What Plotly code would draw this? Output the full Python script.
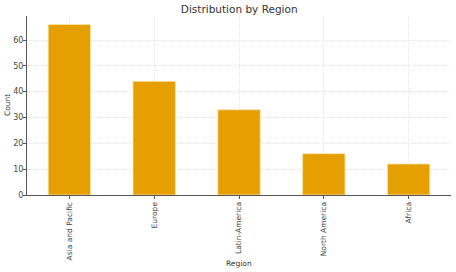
import plotly.graph_objects as go

regions = ["Asia and Pacific", "Europe", "Latin-America", "North America", "Africa"]
counts = [66, 44, 33, 16, 12]
y_ticks = [0, 10, 20, 30, 40, 50, 60]

L, R, T, B = 27, 4.5, 16, 77.4
W, H = 456, 272

fig = go.Figure(go.Bar(
    x=regions, y=counts, width=0.5,
    marker=dict(color="#E69F00", line=dict(color="#FBE3B0", width=0.8)),
))

axis_font = dict(family="DejaVu Sans", size=7.5, color="#444444")
fig.update_layout(
    width=W, height=H,
    margin=dict(l=L, r=R, t=T, b=B, autoexpand=False),
    paper_bgcolor="white", plot_bgcolor="white",
    showlegend=False,
    title=dict(text="Distribution by Region", x=(L + W - R) / 2 / W, xanchor="center",
               y=1 - 9 / H, yanchor="middle",
               font=dict(family="DejaVu Sans", size=10.5, color="#333333")),
    font=dict(family="DejaVu Sans"),
    annotations=[
        dict(text="Region", xref="paper", yref="paper", x=0.5, y=-(263 - (H - B)) / (H - T - B),
             yanchor="middle", xanchor="center", showarrow=False,
             font=dict(family="DejaVu Sans", size=7.5, color="#333333")),
        dict(text="Count", xref="paper", yref="paper", x=-(L - 7.5) / (W - L - R), y=0.5,
             yanchor="middle", xanchor="center", textangle=-90, showarrow=False,
             font=dict(family="DejaVu Sans", size=7.5, color="#333333")),
    ],
)
fig.update_xaxes(
    range=[-0.5, 4.5], tickangle=-90, tickfont=axis_font, automargin=False,
    showline=True, linecolor="#555555", linewidth=1,
    ticks="outside", ticklen=3, tickcolor="#555555",
    showgrid=True, gridcolor="#e4e4e4", gridwidth=0.8, griddash="1px,1px",
)
fig.update_yaxes(
    range=[0, 69.3], tickvals=y_ticks, tickfont=dict(family="DejaVu Sans", size=8, color="#444444"),
    automargin=False, ticklabelstandoff=-2,
    showline=True, linecolor="#555555", linewidth=1,
    ticks="outside", ticklen=3, tickcolor="#555555",
    showgrid=True, gridcolor="#e4e4e4", gridwidth=0.8, griddash="1px,1px",
    zeroline=False,
)
fig.write_html("out.html")
